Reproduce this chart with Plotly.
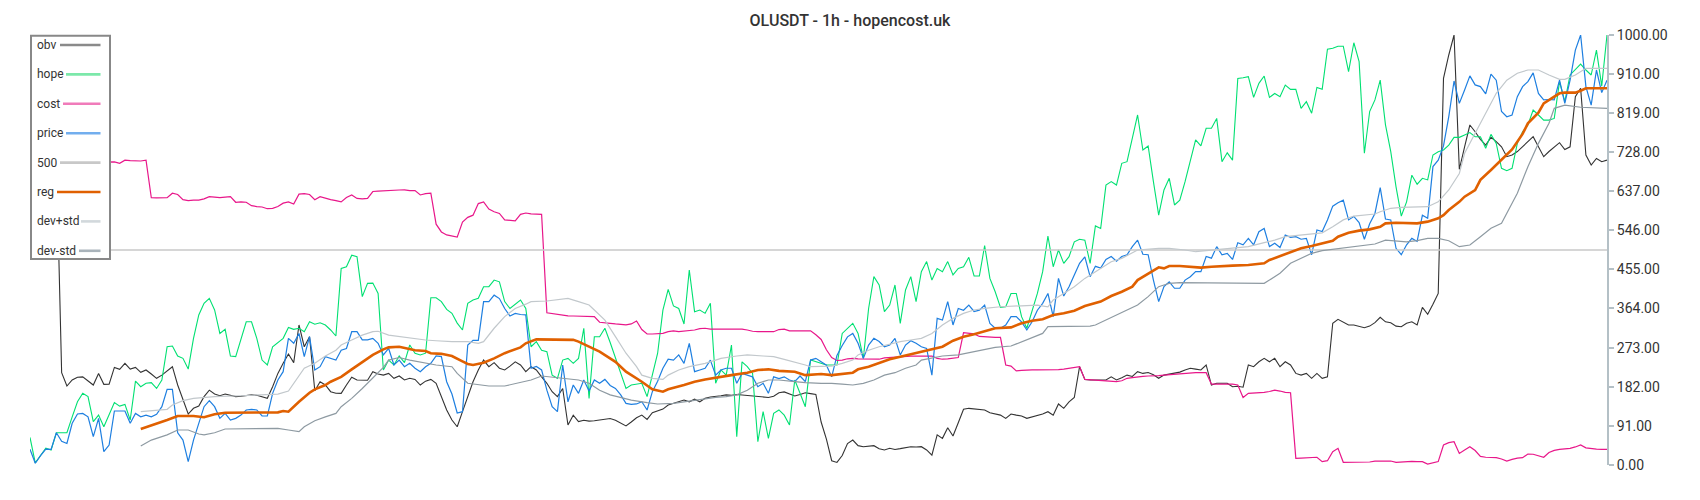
import plotly.graph_objects as go

# ---------------- data (hour index 0..299, values normalised 0..1000) ----------------
hours = list(range(300))

price = [
    36.5, 4, 22, 37, 36.5, 75, 55, 50, 97, 118.6,
    120, 112, 66, 108.5, 31, 46.5, 125.6, 125, 125.6, 97,
    120, 112, 116, 112, 118, 135.6, 176, 176, 75, 58,
    7.7, 58, 97, 135.6, 149.6, 135.6, 108.5, 120, 104.6, 108.5,
    116, 128, 129.5, 128, 114, 114, 166.7, 197.7, 217, 294.6,
    283, 306, 252, 298.4, 221, 228.6, 252, 248, 244, 267,
    271, 310, 310, 291, 291, 294.6, 283, 256, 271, 232.6,
    244, 228.6, 236.4, 225, 217, 228.6, 236.4, 253.5, 252, 193.7,
    165, 121, 124, 279, 290, 290, 380, 380, 395, 387,
    364, 346.5, 352.7, 350, 349, 225, 229, 221, 174, 135.6,
    124, 232.6, 147, 186, 166.7, 197.7, 172, 197.7, 190, 199,
    185, 178, 163, 143.4, 141, 142, 147, 128, 170.5, 195,
    225, 246, 244, 256, 236.4, 283, 217, 221, 225, 244,
    209, 221, 225, 225, 190, 213, 209, 205, 182, 190,
    166.7, 205, 201, 205, 197.7, 194, 207, 194, 244, 248,
    240, 232, 205, 255, 278, 298, 306, 283, 248, 279,
    294.6, 287, 275, 279, 294.6, 256, 279, 289, 283, 275,
    271, 209, 341, 337, 380, 325.6, 364, 360, 372, 357,
    360, 372, 329.5, 318, 318, 325.6, 345, 345, 333, 314,
    333, 360, 376, 399, 345, 434, 393, 414.7, 442, 469,
    484, 438, 462, 458, 478, 485, 474, 485, 489, 507.7,
    523, 490, 489, 430, 380, 415, 426, 411, 411, 430,
    438, 449.6, 449.6, 485, 481, 507.7, 489, 492, 478, 517,
    512, 527, 512, 542.6, 550, 508, 515.6, 506, 535, 529.5,
    531, 525, 527, 489, 546.5, 543, 570, 602, 610, 616,
    570, 578, 564, 525, 561, 585, 645, 572, 570, 504,
    489, 512, 527, 520, 581, 574, 694, 709, 742, 810,
    893, 841, 872, 905, 884, 880, 863, 909, 895, 822,
    810, 814, 856.6, 880, 891.5, 912, 864, 849, 850, 849,
    895, 841, 895, 965, 1000, 880, 837, 918.6, 866, 895,
]

hope = [
    64, 5, 22, 39, 35, 75, 75, 75, 112, 147,
    166.7, 159, 101, 116, 89, 117, 145, 137, 141, 104.6,
    195, 182, 190, 191.5, 178, 197.7, 275, 276.7, 253.5, 248,
    223, 294.6, 349, 376, 387.6, 360.5, 306, 315.5, 253.5, 252,
    294.6, 333, 333, 294.6, 244, 232.6, 275, 284.5, 294.6, 320,
    315.5, 318, 310, 333, 327.5, 330.7, 325.6, 314, 300, 457,
    461, 488, 484.5, 391.5, 422.5, 423, 399, 221, 244, 232.6,
    253.5, 238, 279, 260, 256, 260, 389, 389, 380, 362,
    352.7, 330, 314, 376, 383.7, 387.6, 414.7, 414.7, 430, 426,
    380, 364, 374, 383.7, 364, 275, 287, 267, 263.6, 209,
    201.6, 244, 248, 236.4, 248, 318, 155, 298.4, 298.4, 318,
    285, 250, 213, 178, 186, 188, 190, 159, 210, 260,
    360, 408.6, 370, 364, 328, 453.5, 356.6, 360.5, 352.7, 376,
    190, 221, 209, 279, 66, 240, 228.6, 213, 54, 124,
    62, 120, 128, 116, 93, 197.7, 167, 135.6, 244, 240,
    236.4, 232.6, 232.6, 232.6, 306, 318, 329.5, 306, 248, 364,
    438, 418.6, 356.6, 372, 418.6, 329.5, 407, 438, 380, 449.6,
    473, 430, 457, 449.6, 473, 442, 457, 461, 483, 439.5,
    439.5, 510, 434, 403, 366.7, 368, 399, 399, 345, 318,
    360.5, 399, 449.6, 532.6, 461, 500, 469, 484.5, 519, 525,
    523, 469, 556, 550, 651, 659, 651, 701.6, 705.4, 763.5,
    814, 732.6, 742, 659, 581, 639.5, 666.7, 604.7, 616, 659,
    709, 756, 742, 783, 783, 806, 705.4, 726, 709, 899,
    900.7, 903, 855, 887.6, 904.6, 855, 864, 856.6, 883.7, 873.6,
    873.6, 829.5, 845, 818, 878, 873.6, 967, 969, 974, 974,
    914.7, 982, 938, 725, 822, 849, 895, 791, 728.6, 647,
    579, 612, 674, 653, 666.7, 663, 721, 728.6, 732.6, 744,
    762, 762, 767.4, 773, 763.5, 763.5, 736.5, 769, 748, 690,
    684.5, 690, 748, 775, 790.7, 825.6, 814, 802, 802, 806,
    891.5, 845, 907, 918.6, 932.5, 918.6, 907, 965, 881, 1000,
]

cost = [
    905, 950, 975, 1000, 870, 760, 710, 708, 706, 705,
    704, 704, 705, 704, 704, 704, 705, 701.6, 709, 708,
    707, 707, 709, 621.6, 621, 622, 621.6, 632, 629, 617,
    615, 616, 616, 619, 624, 623, 622, 623, 624, 611,
    612, 611, 603, 601, 600, 596, 597, 601, 609, 612,
    607, 630, 631, 629, 617, 624, 620, 617, 615, 612,
    622, 628, 620, 619, 620, 636, 637, 638, 638, 639,
    639.5, 640, 638, 638, 628, 631, 632, 560, 542, 535,
    532, 530, 565, 576, 581, 608, 612, 595, 589, 585,
    570, 569, 568, 583, 586, 584, 583, 583, 354, 352,
    350, 348, 347, 346.5, 346.5, 346.5, 346, 345, 332, 330,
    329.5, 328, 327, 326, 328, 335, 315, 304.6, 304.6, 305,
    306, 310, 312, 310, 311, 313, 314, 317, 318, 316,
    316, 317, 317, 317, 317, 316, 314, 311, 310, 310,
    310, 310, 315, 316, 312, 312, 312, 312, 312, 303,
    292, 268, 250, 243, 244, 247, 248, 247, 247, 246,
    246, 246, 249, 250, 251, 252, 252, 253, 253, 253.5,
    253.5, 253.5, 248, 246, 247, 248, 250, 307.7, 306, 305,
    299, 298, 297, 297, 297, 232.6, 230, 219, 220, 221,
    221, 221, 221, 221, 222, 222, 223, 225, 227, 228.6,
    199, 198, 197, 196, 195, 195, 194, 196, 201.6, 203,
    205, 206, 207, 207, 208, 209, 210, 211, 213, 214,
    214.7, 214.7, 214.7, 214.7, 188, 188, 188, 188, 188, 186,
    157, 166.7, 167, 168, 169, 171, 174, 172, 169, 168,
    15.5, 16, 17, 18, 18, 7.7, 10, 31, 38.8, 6.2,
    6.2, 6.2, 6.2, 6.2, 7, 9, 9.3, 9.3, 9.3, 6.2,
    7, 9.3, 8.5, 8, 7.7, 2.3, 5, 8, 46.5, 52,
    54, 27, 35, 42.6, 33.6, 20, 18, 18, 17, 14,
    9.3, 13, 16, 17, 25.6, 25, 22, 18, 29, 34,
    36.5, 37, 38.8, 42, 46.5, 40, 38, 37, 36.5, 36.5,
]

obv = [
    700, 720, 710, 730, 725, 720, 214.7, 183.7, 197.7, 204,
    205, 195, 186, 213, 187.6, 188, 227, 222.5, 236.4, 223,
    227, 215.5, 221, 211.6, 201.6, 209, 218, 228.6, 186, 151,
    118.6, 131.8, 137, 159, 174, 165, 161, 165, 162, 159,
    160, 161, 163, 162, 159, 155, 182, 213, 236.4, 258,
    238, 325.6, 275, 298.4, 172.8, 193.7, 186, 170.5, 167, 166.7,
    186, 204, 197.7, 197, 197, 217, 211.6, 209, 213, 201.6,
    207, 197.7, 201.6, 199, 186, 195, 199, 190, 159, 128,
    104.6, 89, 124, 159, 193.7, 221, 244, 228.6, 238, 225,
    221, 230, 240, 232.6, 217, 228.6, 221, 205, 190, 170.5,
    159, 178, 93, 116, 101, 104, 102, 103, 105, 107,
    108, 104, 97, 91, 100, 110, 116, 106, 121.6, 126,
    130, 139.5, 143, 148, 151, 147, 153, 147, 155, 158,
    159, 161, 163, 162, 164, 163, 162, 160, 159, 158,
    157, 160, 168, 170, 165, 160.5, 164, 168, 166, 164,
    100, 60, 10, 6, 22, 50, 58, 45, 42.6, 43,
    45, 38, 35, 38.8, 36, 38, 41, 42.6, 42, 42.6,
    35, 23, 70, 62, 86.8, 67.4, 98.4, 129.5, 131.8, 130,
    129.5, 128, 121.6, 118, 116, 108.5, 118.6, 116, 114, 108.5,
    112, 116, 118.6, 124, 116, 141.9, 131.8, 147, 157, 228.6,
    199, 198, 197.7, 198, 197.7, 205, 197.7, 203, 209, 206,
    217, 213, 215, 210, 201.6, 209, 211, 213, 216, 221,
    225, 223, 221, 232.6, 186, 190, 190, 190, 182, 183,
    181, 232.6, 228.6, 240, 248, 240, 248, 228.6, 240, 232.6,
    213, 209, 213, 201.6, 213, 201.6, 205, 329.5, 338.8, 333,
    325.6, 325.6, 322, 319.4, 323, 331, 343.4, 333, 331, 323,
    321.6, 329.5, 333, 325.6, 366.7, 350.4, 374, 399, 899, 953.5,
    1000, 687.6, 740, 790.7, 775, 757.4, 744, 762, 752, 740,
    717, 721, 729, 740, 752, 763.5, 740, 717, 729, 740,
    749.6, 733.6, 740, 856.6, 876, 721, 697.7, 713, 705.4, 709,
]

reg_x = [21, 24, 26, 28, 30, 31, 33, 35, 37, 42, 47, 48, 49, 51, 53, 54, 56, 57, 59, 61,
         63, 65, 67, 68, 70, 71, 73, 75, 76, 78, 80, 82, 83, 84, 86, 88, 90, 93, 94, 96,
         101, 103, 104, 106, 108, 111, 113, 116, 118, 120, 121, 124, 126, 128, 131, 133, 136, 138, 140, 142,
         145, 147, 150, 152, 156, 157, 159, 161, 163, 165, 167, 169, 171, 173, 175, 177, 179, 181, 183, 186,
         188, 190, 192, 194, 196, 198, 200, 203, 205, 207, 209, 210, 212, 214, 215, 216, 218, 220, 222, 224,
         226, 228, 231, 232, 234, 235, 237, 239, 241, 243, 245, 247, 248, 250, 252, 254, 256, 257, 259, 263,
         265, 267, 268, 269, 271, 272, 274, 275, 277, 279, 281, 283, 284, 286, 287, 289, 290, 291, 293, 294,
         295, 297, 299]
reg = [83.7, 95.3, 104.6, 114, 114.7, 114, 111, 118, 121.6, 121.6, 122.4, 125.6, 124, 147, 168, 176, 186, 193.7, 205, 222.5,
       240, 256, 269, 273.6, 275, 272.9, 267, 265, 260, 258.5, 253.5, 241, 235, 232.6, 238, 248, 260, 273.6, 283, 292.2,
       292.2, 291, 287, 275, 263.6, 240, 217, 193.7, 176, 170.5, 176, 186, 193.7, 199, 204, 209, 214.7, 221, 222.5, 219,
       217, 209, 211.6, 209, 214.7, 222.5, 228.6, 238, 245.7, 252, 258, 263.6, 269, 275, 289, 298.4, 304, 311.6, 318, 320,
       329.5, 335.6, 338.8, 349, 352.7, 358.9, 369.8, 380, 393, 403, 414.7, 430, 445.8, 459.7, 457.4, 462.8, 462.8, 461, 459, 461,
       462.8, 463.6, 465, 466.7, 469, 476.7, 486, 493.7, 504, 509.3, 515.6, 521.6, 531, 540, 545, 548, 554, 562, 563.5, 562,
       566, 573.7, 581, 593, 612, 624, 639.5, 663, 686, 709, 734, 770, 794.6, 819.4, 841, 856.6, 864.4, 866, 866, 870.5,
       876, 876, 876]

dev_plus_x = [21, 24, 26, 27, 29, 31, 33, 35, 40, 45, 47, 49, 50, 51, 52, 54, 56, 58, 59, 61,
              63, 65, 66, 68, 70, 73, 75, 77, 80, 83, 85, 86, 88, 90, 92, 94, 95, 98, 100, 102,
              104, 106, 107, 109, 111, 113, 115, 116, 118, 120, 121, 123, 125, 128, 130, 131, 134, 136, 139, 141,
              143, 145, 147, 148, 152, 154, 156, 157, 159, 161, 163, 165, 167, 169, 171, 173, 175, 177, 179, 181,
              184, 190, 191, 193, 194, 196, 198, 200, 202, 204, 205, 207, 209, 210, 214, 216, 219, 221, 223, 228,
              231, 234, 236, 238, 241, 245, 247, 249, 251, 255, 256, 258, 260, 265, 267, 269, 271, 272, 274, 276,
              278, 280, 282, 284, 286, 288, 290, 291, 293, 295, 299]
dev_plus = [124, 128, 129.5, 139.5, 149.6, 155, 157.4, 159, 161, 163, 165, 172, 190, 209, 225, 236.4, 253.5, 267, 279, 290.7,
            302, 310, 311, 302, 298.4, 294.6, 290.7, 289, 286.8, 286.8, 283, 286.8, 318, 345, 364, 374, 380, 381.4, 385.3, 387.6,
            380, 372, 360.5, 337, 298.4, 260, 228.6, 209, 201.6, 199, 209, 221, 228.6, 236.4, 244, 248, 253.5, 256, 253.5, 252,
            245.7, 240, 232.6, 228.6, 230, 236.4, 244, 256, 267, 275, 281.4, 286.8, 290.7, 294.6, 306, 325.6, 341, 352.7, 360.5, 364.3,
            368, 372, 372, 368, 383.7, 399, 414.7, 434, 449.6, 465, 472.8, 480.6, 492.3, 500, 504, 504, 500, 496, 498.4, 504,
            507.7, 517, 523, 531, 535, 540, 554, 570, 579, 583.7, 589, 597, 599, 600.7, 612, 639.5, 678, 725, 771.4, 818,
            864.4, 895, 911, 918.6, 918.6, 907, 897, 897, 907, 922.5, 922.5]

dev_minus_x = [21, 23, 26, 28, 30, 32, 33, 35, 37, 45, 47, 49, 51, 52, 54, 56, 58, 59, 61, 63,
               65, 67, 68, 70, 72, 75, 77, 80, 81, 83, 85, 87, 90, 92, 95, 97, 99, 102, 104, 106,
               108, 110, 112, 114, 117, 119, 122, 124, 127, 130, 132, 134, 136, 138, 140, 142, 145, 147, 150, 152,
               154, 156, 158, 160, 162, 164, 166, 168, 169, 171, 173, 176, 178, 180, 181, 183, 186, 188, 190, 192,
               193, 197, 201, 202, 204, 206, 208, 210, 212, 214, 215, 216, 218, 231, 234, 235, 237, 239, 241, 243,
               245, 247, 252, 255, 257, 261, 263, 265, 267, 269, 271, 273, 275, 277, 279, 280, 282, 284, 286, 288,
               289, 291, 294, 299]
dev_minus = [44, 58, 70, 81.4, 81.4, 72, 70, 75, 83.7, 85, 85, 81.4, 77.5, 89, 103, 112, 120, 135.6, 155, 178,
             201.6, 227, 244, 250, 244, 236.4, 232.6, 228.6, 213, 190, 186, 183.7, 183.7, 190, 197.7, 207, 204, 199, 197.7, 190,
             174, 163, 157.4, 151, 145, 141.9, 143.4, 147, 152.6, 157.4, 159, 163, 174, 190, 197.7, 197.7, 193.7, 191.5, 190, 190,
             188, 186, 190, 197.7, 209, 214.7, 225, 232.6, 244, 248, 253.5, 256, 261, 265.8, 269, 273.6, 276.7, 286.8, 297, 306,
             321.6, 323, 323, 325.6, 337, 349, 360.5, 372, 391.5, 414.7, 418.6, 422.5, 424, 424, 422.5, 430, 445.8, 469, 480.6, 492.3,
             498.4, 501.6, 509.3, 514, 523, 519, 521.6, 527, 527, 521.6, 507.7, 511.6, 531, 550.4, 562, 585.3, 632, 693.7, 748, 794.6,
             829.5, 837, 832, 829.5]

level_x = [0, 299]
level = [500, 500]

tick_vals = [0, 91, 182, 273, 364, 455, 546, 637, 728, 819, 910, 1000]
tick_text = [f"{v:.2f}" for v in tick_vals]

legend_names = ["obv", "hope", "cost", "price", "500", "reg", "dev+std", "dev-std"]

# ---------------- styles ----------------
FONT = "Roboto, 'Open Sans', sans-serif"
TEXT = "#333333"
styles = {
    "obv": dict(color="#333333", width=1.1),
    "hope": dict(color="#00E072", width=1.1),
    "cost": dict(color="#E8178A", width=1.2),
    "price": dict(color="#1E7FE0", width=1.2),
    "500": dict(color="#C8C8C8", width=1.6),
    "reg": dict(color="#E06000", width=2.6),
    "dev+std": dict(color="#C2C8CC", width=1.2),
    "dev-std": dict(color="#8E9AA2", width=1.2),
}
legend_colors = {
    "obv": "#8A8A8A", "hope": "#7CE8AA", "cost": "#F07BBA", "price": "#72AEEE",
    "500": "#C8C8C8", "reg": "#E06000", "dev+std": "#D2D8DC", "dev-std": "#A9B3BA",
}

series = {
    "obv": (hours, obv),
    "hope": (hours, hope),
    "cost": (hours, cost),
    "price": (hours, price),
    "500": (level_x, level),
    "reg": (reg_x, reg),
    "dev+std": (dev_plus_x, dev_plus),
    "dev-std": (dev_minus_x, dev_minus),
}

fig = go.Figure()
for name in legend_names:
    xs, ys = series[name]
    fig.add_trace(go.Scatter(x=xs, y=ys, mode="lines", name=name,
                             line=dict(shape="linear", **styles[name]),
                             showlegend=False, hoverinfo="skip"))

# ---------------- layout geometry ----------------
# The page body has an 8px margin, so the figure is drawn 8px in from the
# window's top-left corner; sizes below are chosen so the plot area lands on
# window pixels x 30..1607, y 35..465.
OFF = 8
W, H = 1692, 492
ML, MR, MT, MB = 30 - OFF, 93, 35 - OFF, 35
PW, PH = W - ML - MR, H - MT - MB


def px_x(p):  # window pixel -> paper x
    return (p - OFF - ML) / PW


def px_y(p):  # window pixel -> paper y
    return (H - MB - (p - OFF)) / PH


shapes = [dict(type="rect", xref="paper", yref="paper", layer="above",
               x0=px_x(31), x1=px_x(110), y0=px_y(259), y1=px_y(35.7),
               fillcolor="white", line=dict(color="#888888", width=2))]
annotations = []
sample_start = {"obv": 60, "hope": 66, "cost": 63, "price": 66, "500": 60,
                "reg": 57, "dev+std": 81, "dev-std": 79}
for k, name in enumerate(legend_names):
    row_y = 45 + 29.4 * k
    annotations.append(dict(xref="paper", yref="paper", x=px_x(35), y=px_y(row_y),
                            xanchor="left", yanchor="middle", showarrow=False,
                            text=name, font=dict(family=FONT, size=12, color=TEXT)))
    shapes.append(dict(type="line", xref="paper", yref="paper", layer="above",
                       x0=px_x(sample_start[name]), x1=px_x(100.5),
                       y0=px_y(row_y), y1=px_y(row_y),
                       line=dict(color=legend_colors[name], width=2.6)))

fig.update_layout(
    width=W, height=H,
    margin=dict(l=ML, r=MR, t=MT, b=MB, autoexpand=False),
    paper_bgcolor="white", plot_bgcolor="white",
    font=dict(family=FONT, color=TEXT),
    title=dict(text="OLUSDT - 1h - hopencost.uk", x=(850 - OFF) / W, xanchor="center",
               y=1 - (20.5 - OFF) / H, yanchor="middle", yref="container",
               font=dict(family=FONT, size=16, color=TEXT, weight=500)),
    showlegend=False,
    xaxis=dict(visible=False, range=[0, 299], showgrid=False, zeroline=False),
    yaxis=dict(side="right", range=[0, 1000], showgrid=False, zeroline=False,
               showline=True, linecolor="#B4C0C6", linewidth=2,
               ticks="outside", ticklen=5, tickwidth=1.5, tickcolor="#B4C0C6",
               tickvals=tick_vals, ticktext=tick_text,
               tickfont=dict(family=FONT, size=14, color=TEXT)),
    shapes=shapes,
    annotations=annotations,
)

fig.write_html("out.html")
